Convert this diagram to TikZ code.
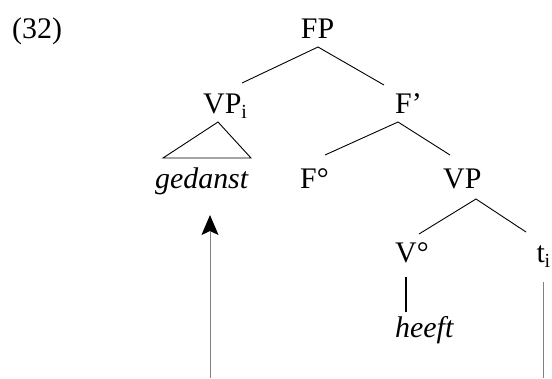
\documentclass[tikz,border=0pt]{standalone}
\usepackage{fontspec}
\setmainfont{Liberation Serif}
\usetikzlibrary{arrows.meta}
\newcommand{\subi}{\raisebox{-5bp}{\fontsize{20}{20}\selectfont i}}
\begin{document}
\begin{tikzpicture}[x=1bp,y=1bp,
  lbl/.style={anchor=base west,inner sep=0pt,font=\fontsize{30}{36}\selectfont},
  branch/.style={draw=black,line width=0.9bp},
  movearrow/.style={draw=gray,line width=1bp,-{Stealth[length=20bp,width=17bp,inset=4bp,color=black]}},
  traceline/.style={draw=gray,line width=1bp}]
\useasboundingbox (0,0) rectangle (552,378);
% labels
\node[lbl] (ex) at (12,340) {(32)};
\node[lbl] (fp) at (300.7,340) {FP};
\node[lbl] (vpi) at (203,265) {VP\subi};
\node[lbl] (fbar) at (395,265) {F’};
\node[lbl] (ged) at (155,190) {\itshape gedanst};
\node[lbl] (fo) at (300,190) {F°};
\node[lbl] (vp) at (443,190) {VP};
\node[lbl] (vo) at (395,116) {V°};
\node[lbl] (ti) at (536.5,116) {t\kern-0.5bp\subi};
\node[lbl] (heeft) at (395,41) {\itshape heeft};
% branch points
\coordinate (fpA) at (318,331);
\coordinate (fpL) at (242,295);
\coordinate (fpR) at (384,293);
\coordinate (triA) at (218,256);
\coordinate (triL) at (163,220);
\coordinate (triR) at (251,220);
\coordinate (fbA) at (398,256);
\coordinate (fbL) at (325,223);
\coordinate (fbR) at (450,223);
\coordinate (vpA) at (476,179);
\coordinate (vpL) at (419,144);
\coordinate (vpR) at (526,146);
\coordinate (voT) at (406,101);
\coordinate (voB) at (406,66);
\coordinate (arrFoot) at (210,0);
\coordinate (arrTip) at (210,163);
\coordinate (trTop) at (543,96);
\coordinate (trFoot) at (543,0);
% branches
\draw[branch] (fpL) -- (fpA) -- (fpR);
\draw[branch] (triA) -- (triL) -- (triR) -- cycle;
\draw[branch] (fbL) -- (fbA) -- (fbR);
\draw[branch] (vpL) -- (vpA) -- (vpR);
\draw[draw=black,line width=2bp] (voT) -- (voB);
% movement
\draw[movearrow] (arrFoot) -- (arrTip);
\draw[traceline] (trTop) -- (trFoot);
\end{tikzpicture}
\end{document}
